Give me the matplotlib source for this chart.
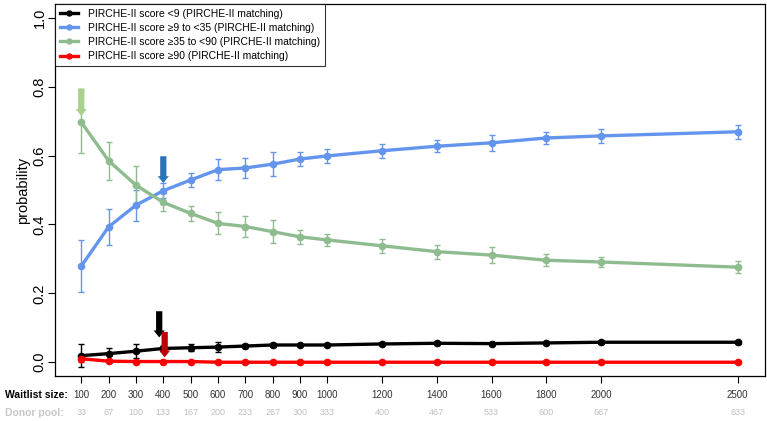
import matplotlib
matplotlib.use("Agg")
import matplotlib.pyplot as plt
import numpy as np

plt.rcParams['font.family'] = ['Liberation Sans', 'DejaVu Sans']

waitlist = [100, 200, 300, 400, 500, 600, 700, 800, 900, 1000, 1200, 1400, 1600, 1800, 2000, 2500]
donor_pool = [33, 67, 100, 133, 167, 200, 233, 267, 300, 333, 400, 467, 533, 600, 667, 833]

p_low = [0.019, 0.025, 0.032, 0.040, 0.042, 0.044, 0.047, 0.050, 0.050, 0.050, 0.053, 0.055, 0.054, 0.056, 0.058, 0.058]
e_low = [0.034, 0.017, 0.020, 0.008, 0.010, 0.014, 0.006, 0.006, 0.004, 0.004, 0.004, 0.004, 0.004, 0.004, 0.004, 0.004]

p_mid = [0.279, 0.393, 0.456, 0.498, 0.529, 0.559, 0.564, 0.575, 0.590, 0.599, 0.614, 0.627, 0.637, 0.651, 0.657, 0.669]
e_mid = [0.075, 0.053, 0.045, 0.022, 0.020, 0.030, 0.030, 0.034, 0.020, 0.021, 0.021, 0.018, 0.023, 0.018, 0.020, 0.020]

p_high = [0.697, 0.585, 0.514, 0.464, 0.432, 0.403, 0.394, 0.379, 0.364, 0.355, 0.338, 0.321, 0.311, 0.296, 0.291, 0.276]
e_high = [0.090, 0.055, 0.056, 0.026, 0.023, 0.032, 0.030, 0.034, 0.020, 0.018, 0.020, 0.020, 0.024, 0.017, 0.015, 0.018]

p_vhigh = [0.010, 0.003, 0.002, 0.002, 0.002, 0.0, 0.0, 0.0, 0.0, 0.0, 0.0, 0.0, 0.0, 0.0, 0.0, 0.0]
e_vhigh = [0.010, 0.003, 0.002, 0.002, 0.001, 0.001, 0.001, 0.001, 0.001, 0.001, 0.001, 0.001, 0.001, 0.001, 0.001, 0.001]

labels = ["PIRCHE-II score <9 (PIRCHE-II matching)",
          "PIRCHE-II score \u22659 to <35 (PIRCHE-II matching)",
          "PIRCHE-II score \u226535 to <90 (PIRCHE-II matching)",
          "PIRCHE-II score \u226590 (PIRCHE-II matching)"]
colors = ["black", "#6495ED", "#8FBC8F", "#FF0000"]

# arrows: (x, y_start, y_end, colour)
arrows = [(100, 0.795, 0.715, "#A9D18E"),
          (400, 0.598, 0.520, "#2E75B6"),
          (385, 0.148, 0.072, "black"),
          (405, 0.088, 0.014, "#C00000")]

fig = plt.figure(figsize=(7.67, 4.21), dpi=100)
ax = fig.add_axes([55 / 767, 45 / 421, 710 / 767, 372 / 421])

series = [(p_low, e_low), (p_mid, e_mid), (p_high, e_high), (p_vhigh, e_vhigh)]
handles = []
for (p, e), c, lab in zip(series, colors, labels):
    ax.errorbar(waitlist, p, yerr=e, fmt='none', ecolor=c, elinewidth=1.0, capsize=2, capthick=1.0, zorder=2)
    h, = ax.plot(waitlist, p, color=c, lw=2.4, marker='o', ms=4.5, label=lab, zorder=3)
    handles.append(h)

for x, y0, y1, c in arrows:
    ax.annotate("", xy=(x, y1), xytext=(x, y0),
                arrowprops=dict(arrowstyle="simple,head_length=0.5,head_width=0.8,tail_width=0.45",
                                color=c, lw=0, shrinkA=0, shrinkB=0), zorder=5)

ax.set_xlim(4, 2600)
ax.set_ylim(-0.04, 1.04)
ax.set_yticks([0.0, 0.2, 0.4, 0.6, 0.8, 1.0])
ax.set_yticklabels(["0.0", "0.2", "0.4", "0.6", "0.8", "1.0"], rotation=90, va='center', fontsize=10.5)
ax.tick_params(axis='y', length=5, width=0.8, pad=1)
ax.set_ylabel("probability", fontsize=10.5, labelpad=2)

ax.set_xticks(waitlist)
ax.set_xticklabels([str(w) for w in waitlist], fontsize=7, color="#333333")
ax.tick_params(axis='x', length=5, width=0.8, pad=5)
for s in ax.spines.values():
    s.set_linewidth(0.9)

fig.text(5 / 767, 1 - 395 / 421, "Waitlist size:", fontsize=7.5, fontweight='bold', va='center', ha='left')
fig.text(5 / 767, 1 - 413 / 421, "Donor pool:", fontsize=7.5, fontweight='bold', va='center', ha='left', color="#C8C8C8")
for w, d in zip(waitlist, donor_pool):
    ax.annotate(str(d), xy=(w, 0), xycoords=('data', 'axes fraction'), xytext=(0, -26.5),
                textcoords='offset points', ha='center', va='center', fontsize=6.5, color="#C0C0C0")

leg = ax.legend(handles=handles, loc='upper left', borderaxespad=0, fontsize=7.5, frameon=True,
                fancybox=False, edgecolor='black', handlelength=1.8, markerscale=0.8,
                labelspacing=0.4, borderpad=0.45, handletextpad=0.9)
leg.get_frame().set_linewidth(0.8)

fig.savefig("out.png", dpi=100)
